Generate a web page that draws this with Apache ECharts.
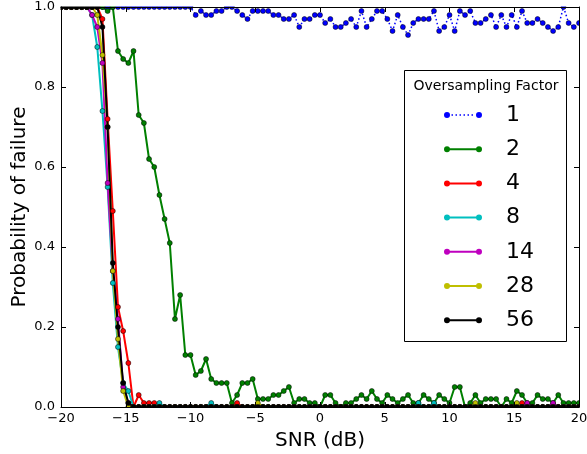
<!DOCTYPE html>
<html><head><meta charset="utf-8">
<script src="https://cdn.jsdelivr.net/npm/echarts@6/dist/echarts.min.js"></script>
<style>html,body{margin:0;padding:0;background:#fff}#c{width:587px;height:454px}</style>
</head><body><div id="c"></div>
<script>
const snr = [
  -20, -19.6, -19.2, -18.8, -18.4, -18, -17.6, -17.2, -16.8, -16.4,
  -16, -15.6, -15.2, -14.8, -14.4, -14, -13.6, -13.2, -12.8, -12.4,
  -12, -11.6, -11.2, -10.8, -10.4, -10, -9.6, -9.2, -8.8, -8.4,
  -8, -7.6, -7.2, -6.8, -6.4, -6, -5.6, -5.2, -4.8, -4.4,
  -4, -3.6, -3.2, -2.8, -2.4, -2, -1.6, -1.2, -0.8, -0.4,
  0, 0.4, 0.8, 1.2, 1.6, 2, 2.4, 2.8, 3.2, 3.6,
  4, 4.4, 4.8, 5.2, 5.6, 6, 6.4, 6.8, 7.2, 7.6,
  8, 8.4, 8.8, 9.2, 9.6, 10, 10.4, 10.8, 11.2, 11.6,
  12, 12.4, 12.8, 13.2, 13.6, 14, 14.4, 14.8, 15.2, 15.6,
  16, 16.4, 16.8, 17.2, 17.6, 18, 18.4, 18.8, 19.2, 19.6,
  20
];
const factors = ['1', '2', '4', '8', '14', '28', '56'];

const f1 = [
  1, 1, 1, 1, 1, 1, 1, 1, 1, 1,
  1, 1, 1, 1, 1, 1, 1, 1, 1, 1,
  1, 1, 1, 1, 1, 1, 0.98, 0.99, 0.98, 0.98,
  0.99, 0.99, 1, 1, 0.99, 0.98, 0.97, 0.99, 0.99, 0.99,
  0.99, 0.98, 0.98, 0.97, 0.97, 0.98, 0.95, 0.97, 0.97, 0.98,
  0.98, 0.96, 0.97, 0.95, 0.95, 0.96, 0.97, 0.95, 0.99, 0.95,
  0.97, 0.99, 0.99, 0.97, 0.94, 0.98, 0.95, 0.93, 0.96, 0.97,
  0.97, 0.97, 0.99, 0.94, 0.95, 0.98, 0.94, 0.99, 0.98, 0.99,
  0.96, 0.96, 0.97, 0.98, 0.95, 0.98, 0.95, 0.98, 0.95, 0.99,
  0.96, 0.96, 0.97, 0.96, 0.95, 0.94, 0.95, 1, 0.96, 0.95,
  0.96
];
const f2 = [
  1, 1, 1, 1, 1, 1, 1, 1, 1, 0.99,
  1, 0.89, 0.87, 0.86, 0.89, 0.73, 0.71, 0.62, 0.60, 0.53,
  0.47, 0.41, 0.22, 0.28, 0.13, 0.13, 0.08, 0.09, 0.12, 0.07,
  0.06, 0.06, 0.06, 0.01, 0.03, 0.06, 0.06, 0.07, 0.02, 0.02,
  0.02, 0.03, 0.03, 0.04, 0.05, 0.01, 0.02, 0.02, 0.01, 0.01,
  0, 0.03, 0.03, 0.01, 0, 0.01, 0.01, 0.02, 0.03, 0.02,
  0.04, 0.02, 0.01, 0.03, 0.02, 0.01, 0.02, 0.03, 0.01, 0.01,
  0.03, 0.02, 0.01, 0.03, 0.02, 0.01, 0.05, 0.05, 0, 0.01,
  0.03, 0.01, 0.02, 0.02, 0.02, 0, 0.02, 0.01, 0.04, 0.03,
  0.01, 0.01, 0.03, 0.02, 0.02, 0.01, 0.03, 0.01, 0.01, 0.01,
  0.01
];
const f4 = [
  1, 1, 1, 1, 1, 1, 1, 1, 0.97, 0.72,
  0.49, 0.25, 0.19, 0.11, 0, 0.03, 0.01, 0.01, 0.01, 0,
  0, 0, 0, 0, 0, 0, 0, 0, 0, 0,
  0, 0, 0, 0, 0.01, 0, 0, 0, 0, 0,
  0, 0, 0, 0, 0, 0, 0, 0, 0, 0,
  0, 0, 0, 0, 0, 0, 0, 0, 0, 0,
  0, 0, 0, 0, 0, 0, 0, 0, 0, 0,
  0, 0, 0, 0, 0, 0, 0, 0, 0, 0,
  0, 0, 0, 0, 0, 0, 0, 0, 0, 0.01,
  0, 0, 0, 0, 0, 0, 0, 0, 0, 0,
  0
];
const f8 = [
  1, 1, 1, 1, 1, 1, 0.98, 0.90, 0.74, 0.55,
  0.31, 0.15, 0.06, 0.04, 0, 0, 0, 0, 0, 0.01,
  0, 0, 0, 0, 0, 0, 0, 0, 0, 0.01,
  0, 0, 0, 0, 0, 0, 0, 0, 0, 0,
  0, 0, 0, 0, 0, 0, 0, 0, 0, 0,
  0, 0, 0, 0, 0, 0, 0, 0, 0, 0,
  0, 0, 0, 0, 0, 0, 0, 0, 0, 0.01,
  0, 0, 0.01, 0, 0, 0, 0, 0, 0, 0,
  0, 0, 0, 0, 0, 0, 0, 0, 0, 0,
  0, 0, 0, 0, 0, 0, 0, 0, 0, 0,
  0
];
const f14 = [
  1, 1, 1, 1, 1, 1, 0.98, 0.95, 0.86, 0.56,
  0.34, 0.22, 0.05, 0.01, 0, 0, 0, 0, 0, 0,
  0, 0, 0, 0, 0, 0, 0, 0, 0, 0,
  0, 0, 0, 0, 0, 0, 0, 0, 0, 0,
  0, 0, 0, 0, 0, 0, 0, 0, 0, 0,
  0, 0, 0, 0, 0, 0, 0, 0, 0, 0,
  0, 0, 0, 0, 0, 0, 0, 0, 0, 0,
  0, 0, 0, 0, 0, 0, 0, 0, 0, 0,
  0, 0, 0, 0, 0, 0, 0, 0, 0, 0,
  0.01, 0, 0, 0, 0, 0.01, 0, 0, 0, 0,
  0
];
const f28 = [
  1, 1, 1, 1, 1, 1, 1, 0.98, 0.88, 0.70,
  0.34, 0.17, 0.04, 0, 0, 0, 0, 0, 0, 0,
  0, 0, 0, 0, 0, 0, 0, 0, 0, 0,
  0, 0, 0, 0, 0, 0, 0, 0, 0.01, 0,
  0, 0, 0, 0, 0, 0, 0, 0, 0, 0,
  0, 0, 0, 0, 0, 0, 0, 0, 0, 0,
  0, 0, 0, 0, 0, 0, 0, 0, 0, 0,
  0, 0, 0, 0, 0, 0, 0, 0, 0, 0,
  0.01, 0, 0, 0, 0, 0, 0, 0, 0.01, 0,
  0, 0, 0, 0, 0, 0, 0, 0, 0, 0,
  0
];
const f56 = [
  1, 1, 1, 1, 1, 1, 1, 1, 0.95, 0.70,
  0.36, 0.20, 0.06, 0.01, 0, 0, 0, 0, 0, 0,
  0, 0, 0, 0, 0, 0, 0, 0, 0, 0,
  0, 0, 0, 0, 0, 0, 0, 0, 0, 0,
  0, 0, 0, 0, 0, 0, 0, 0, 0, 0,
  0, 0, 0, 0, 0, 0, 0, 0, 0, 0,
  0, 0, 0, 0, 0, 0, 0, 0, 0, 0,
  0, 0, 0, 0, 0, 0, 0, 0, 0, 0,
  0, 0, 0, 0, 0, 0, 0, 0, 0, 0,
  0, 0, 0, 0, 0, 0, 0, 0, 0, 0,
  0
];
const xTicks = { min: -20, max: 20, interval: 5 };
const yTicks = { min: 0, max: 1, interval: 0.2 };

const values = [f1, f2, f4, f8, f14, f28, f56];
const colors = ['#0000ff', '#008000', '#ff0000', '#00bfbf', '#bf00bf', '#bfbf00', '#000000'];
const FONT = 'DejaVu Sans';

const series = factors.map((name, i) => ({
  name: name,
  type: 'line',
  data: snr.map((x, j) => [x, values[i][j]]),
  symbol: 'circle',
  symbolSize: 5,
  showSymbol: true,
  showAllSymbol: true,
  clip: true,
  z: 2,
  lineStyle: { color: colors[i], width: i === 0 ? 1.5 : 2, type: i === 0 ? [1.5, 2.5] : 'solid' },
  itemStyle: { color: colors[i], borderColor: '#000', borderWidth: 0.5 },
  emphasis: { disabled: true },
  animation: false
}));

const circles = 'M0,3A3,3 0 1,1 6,3A3,3 0 1,1 0,3Z M32,3A3,3 0 1,1 38,3A3,3 0 1,1 32,3Z ';
const iconSolid = 'path://' + circles + 'M3,2L35,2L35,4L3,4Z';
let dots = '';
[7.5, 11.5, 15.5, 19.5, 23.5, 27.5].forEach(d => { dots += 'M' + d + ',2.25L' + (d + 1.5) + ',2.25L' + (d + 1.5) + ',3.75L' + d + ',3.75Z '; });
const iconDot = 'path://' + circles + dots;

const axisCommon = {
  z: 10,
  axisLine: { show: true, onZero: false, lineStyle: { color: '#000', width: 1 } },
  axisTick: { show: true, inside: true, length: 5, lineStyle: { color: '#000', width: 1 } },
  splitLine: { show: false }
};

const option = {
  animation: false,
  backgroundColor: '#fff',
  grid: { left: 61, right: 8, top: 7, bottom: 47, containLabel: false, outerBoundsMode: 'none' },
  xAxis: [
    Object.assign({}, axisCommon, {
      type: 'value', position: 'bottom', min: xTicks.min, max: xTicks.max, interval: xTicks.interval,
      axisLabel: { color: '#000', fontSize: 13, fontFamily: FONT, margin: 5,
        formatter: v => String(v).replace('-', '\u2212') },
      name: 'SNR (dB)', nameLocation: 'middle', nameGap: 24, nameMoveOverlap: false,
      nameTextStyle: { fontSize: 20, color: '#000', fontFamily: FONT }
    }),
    Object.assign({}, axisCommon, {
      type: 'value', position: 'top', min: xTicks.min, max: xTicks.max, interval: xTicks.interval,
      axisLabel: { show: false }
    })
  ],
  yAxis: [
    Object.assign({}, axisCommon, {
      type: 'value', position: 'left', min: yTicks.min, max: yTicks.max, interval: yTicks.interval,
      axisLabel: { color: '#000', fontSize: 13, fontFamily: FONT, margin: 6,
        formatter: v => v.toFixed(1) },
      name: 'Probability of failure', nameLocation: 'middle', nameGap: 31, nameRotate: 90, nameMoveOverlap: false,
      nameTextStyle: { fontSize: 20, color: '#000', fontFamily: FONT }
    }),
    Object.assign({}, axisCommon, {
      type: 'value', position: 'right', min: yTicks.min, max: yTicks.max, interval: yTicks.interval,
      axisLabel: { show: false }
    })
  ],
  legend: {
    orient: 'vertical', left: 444, top: 104, padding: 0, itemGap: 12.2,
    itemWidth: 38, itemHeight: 6, selectedMode: false, z: 7,
    data: factors.map((n, i) => ({ name: n, icon: i === 0 ? iconDot : iconSolid })),
    itemStyle: { borderWidth: 0 },
    lineStyle: { width: 0 },
    textStyle: { fontSize: 22, color: '#000', fontFamily: FONT, padding: [0, 0, 0, 19] }
  },
  graphic: [
    { type: 'rect', silent: true, z: 5, shape: { x: 0, y: 0, width: 587, height: 6.5 }, style: { fill: '#fff' } },
    { type: 'rect', silent: true, z: 5, shape: { x: 0, y: 407.5, width: 587, height: 47 }, style: { fill: '#fff' } },
    { type: 'rect', silent: true, z: 5, shape: { x: 0, y: 0, width: 60.5, height: 454 }, style: { fill: '#fff' } },
    { type: 'rect', silent: true, z: 5, shape: { x: 579.5, y: 0, width: 8, height: 454 }, style: { fill: '#fff' } },
    { type: 'rect', silent: true, z: 5, shape: { x: 404.5, y: 70.5, width: 162, height: 271 },
      style: { fill: '#fff', stroke: '#000', lineWidth: 1 } },
    { type: 'text', silent: true, z: 6, x: 486, y: 86,
      style: { text: 'Oversampling Factor', font: '14px "DejaVu Sans"', fill: '#000',
        align: 'center', verticalAlign: 'middle', textAlign: 'center', textVerticalAlign: 'middle' } }
  ],
  series: series
};

const chart = echarts.init(document.getElementById('c'), null, { renderer: 'canvas' });
chart.setOption(option);
</script>
</body></html>
